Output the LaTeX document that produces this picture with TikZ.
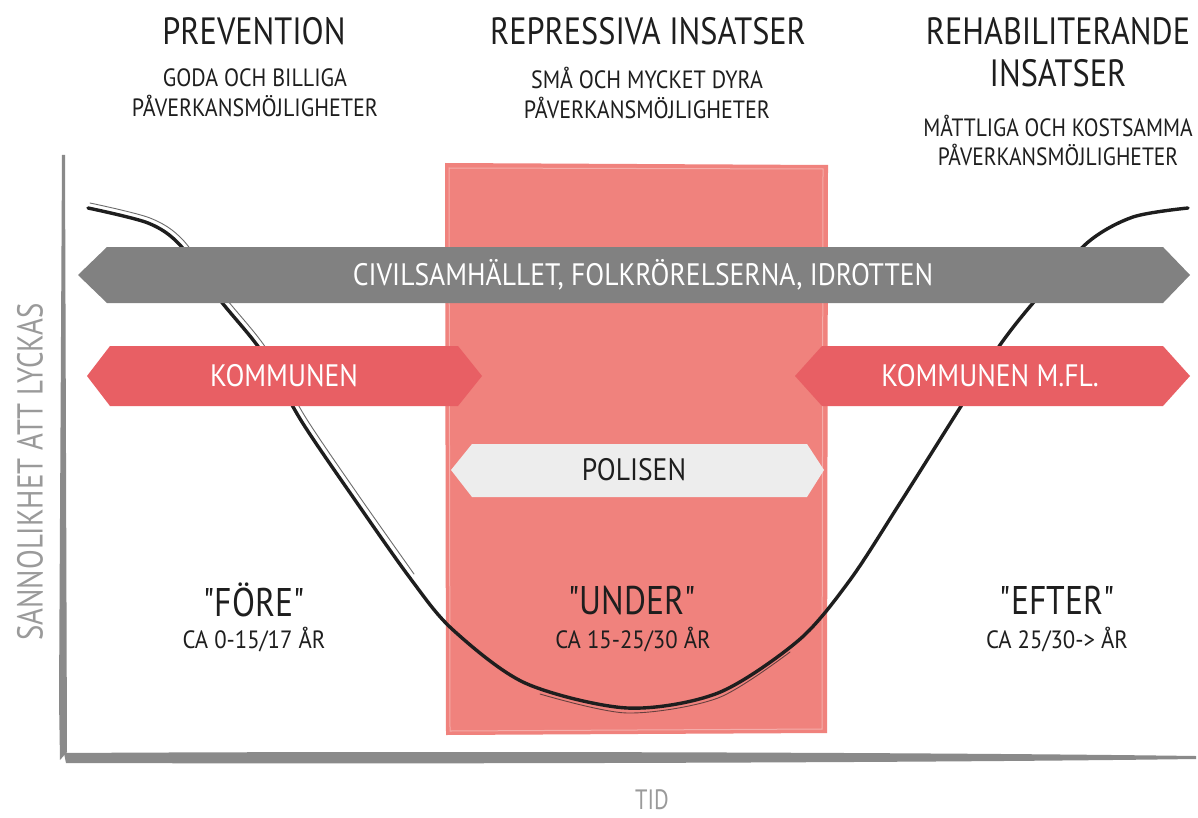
\documentclass[tikz,border=0pt]{standalone}
\usepackage{fontspec}
\setmainfont{PT Sans}[FakeStretch=0.80]
\newfontfamily\fTitle{PT Sans}[FakeStretch=0.85]
\newfontfamily\fSub{PT Sans}[FakeStretch=0.88]
\newfontfamily\fSubR{PT Sans}[FakeStretch=0.86]
\newfontfamily\fBar{PT Sans}[FakeStretch=0.89]
\newfontfamily\fPhase{PT Sans}[FakeStretch=0.84]
\newfontfamily\fAge{PT Sans}[FakeStretch=0.91]
\newfontfamily\fAxis{PT Sans}[FakeStretch=0.80]
\definecolor{ink}{HTML}{1E1E1E}
\definecolor{barGray}{HTML}{818181}
\definecolor{barRed}{HTML}{E85F64}
\definecolor{zoneRed}{HTML}{F0827D}
\definecolor{barLight}{HTML}{EDEDED}
\definecolor{axisGray}{HTML}{8A8A8A}
\definecolor{labelGray}{HTML}{9A9A9A}
\tikzset{
  titletext/.style={font=\fTitle\fontsize{38}{42}\selectfont, text=ink, align=center, inner sep=0pt},
  subtext/.style={font=\fSub\fontsize{25}{30}\selectfont, text=ink, align=center, inner sep=0pt},
  subtextR/.style={font=\fSubR\fontsize{25}{29}\selectfont, text=ink, align=center, inner sep=0pt},
  bartext/.style={font=\fBar\fontsize{31}{33}\selectfont, text=white, inner sep=0pt},
  darkbartext/.style={font=\fBar\fontsize{31}{33}\selectfont, text=ink, inner sep=0pt},
  phasetext/.style={font=\fPhase\fontsize{40}{42}\selectfont, text=ink, inner sep=0pt},
  agetext/.style={font=\fAge\fontsize{25}{27}\selectfont, text=ink, inner sep=0pt},
  axislabel/.style={font=\fAxis\fontsize{36}{38}\selectfont, text=labelGray, inner sep=0pt},
  xlabel/.style={font=\fAxis\fontsize{28}{30}\selectfont, text=labelGray, inner sep=0pt},
  curvestroke/.style={draw=ink, line width=3.4pt, line cap=round, line join=round},
  curvethin/.style={draw=ink, line width=0.9pt, line cap=round, opacity=0.65},
}
\begin{document}
\begin{tikzpicture}[x=1pt,y=-1pt]
\useasboundingbox (0,0) rectangle (1198,818);
\fill[white] (0,0) rectangle (1198,818);

% zone
\fill[zoneRed] (445,163) -- (828,165) -- (827,733) -- (446,735) -- cycle;
\draw[white, opacity=0.35, line width=1pt] (449,168) -- (823,169) -- (822,729) -- (450,731) -- cycle;

% axes
\fill[axisGray] (62,155) -- (65,155) -- (67,752) -- (60,760) -- (59,700) -- cycle;
\fill[axisGray] (64,753) .. controls (400,751) and (900,752) .. (1196,756) -- (1196,759) .. controls (900,763) and (400,764) .. (66,763) -- cycle;

% curve
\draw[curvestroke] plot[smooth, tension=0.5] coordinates {
 (88,208) (148,223) (180,245) (220,300) (262,352) (302,422) (355,500) (410,578) (452,629)
 (525,683) (627,708) (718,693) (799,640) (850,580) (900,503)
 (963,403) (1000,345) (1033,303) (1087,243) (1133,217) (1188,208)};
\draw[curvethin] plot[smooth, tension=0.5] coordinates {
 (90,203) (150,218) (183,240) (224,296) (266,348) (306,418) (359,496) (414,574)};
\draw[curvethin] plot[smooth, tension=0.5] coordinates {
 (540,694) (627,713) (718,698) (790,652)};

% bars
\fill[barGray] (78,275) -- (107,247) -- (1163,247) -- (1190,275) -- (1163,303) -- (107,303) -- cycle;
\node[bartext] (civ) at (643,275) {CIVILSAMHÄLLET, FOLKRÖRELSERNA, IDROTTEN};

\fill[barRed] (87,376) -- (110,346) -- (458,346) -- (482,376) -- (458,406) -- (110,406) -- cycle;
\node[bartext] (kom) at (284,376) {KOMMUNEN};

\fill[barRed] (795,376) -- (822,346) -- (1163,346) -- (1190,376) -- (1163,406) -- (822,406) -- cycle;
\node[bartext] (komfl) at (990,376) {KOMMUNEN M.FL.};

\fill[barLight] (451,470) -- (472,444) -- (807,444) -- (824,470) -- (807,497) -- (472,497) -- cycle;
\node[darkbartext] (pol) at (634,470) {POLISEN};

% titles
\node[titletext] (t1) at (254,31) {PREVENTION};
\node[subtext] (s1) at (255,93) {GODA OCH BILLIGA\\PÅVERKANSMÖJLIGHETER};
\node[titletext] (t2) at (648,31) {REPRESSIVA INSATSER};
\node[subtext] (s2) at (647,93) {SMÅ OCH MYCKET DYRA\\PÅVERKANSMÖJLIGHETER};
\node[titletext] (t3) at (1058,52) {REHABILITERANDE\\INSATSER};
\node[subtextR] (s3) at (1058,140) {MÅTTLIGA OCH KOSTSAMMA\\PÅVERKANSMÖJLIGHETER};

% phases
\node[phasetext] (p1) at (254,600) {"FÖRE"};
\node[agetext] (a1) at (254,640) {CA 0-15/17 ÅR};
\node[phasetext] (p2) at (632,600) {"UNDER"};
\node[agetext] (a2) at (633,640) {CA 15-25/30 ÅR};
\node[phasetext] (p3) at (1057,600) {"EFTER"};
\node[agetext] (a3) at (1057,640) {CA 25/30-> ÅR};

% axis labels
\node[axislabel, rotate=90] (ylab) at (30,472) {SANNOLIKHET ATT LYCKAS};
\node[xlabel] (xlab) at (652,800) {TID};
\end{tikzpicture}
\end{document}
